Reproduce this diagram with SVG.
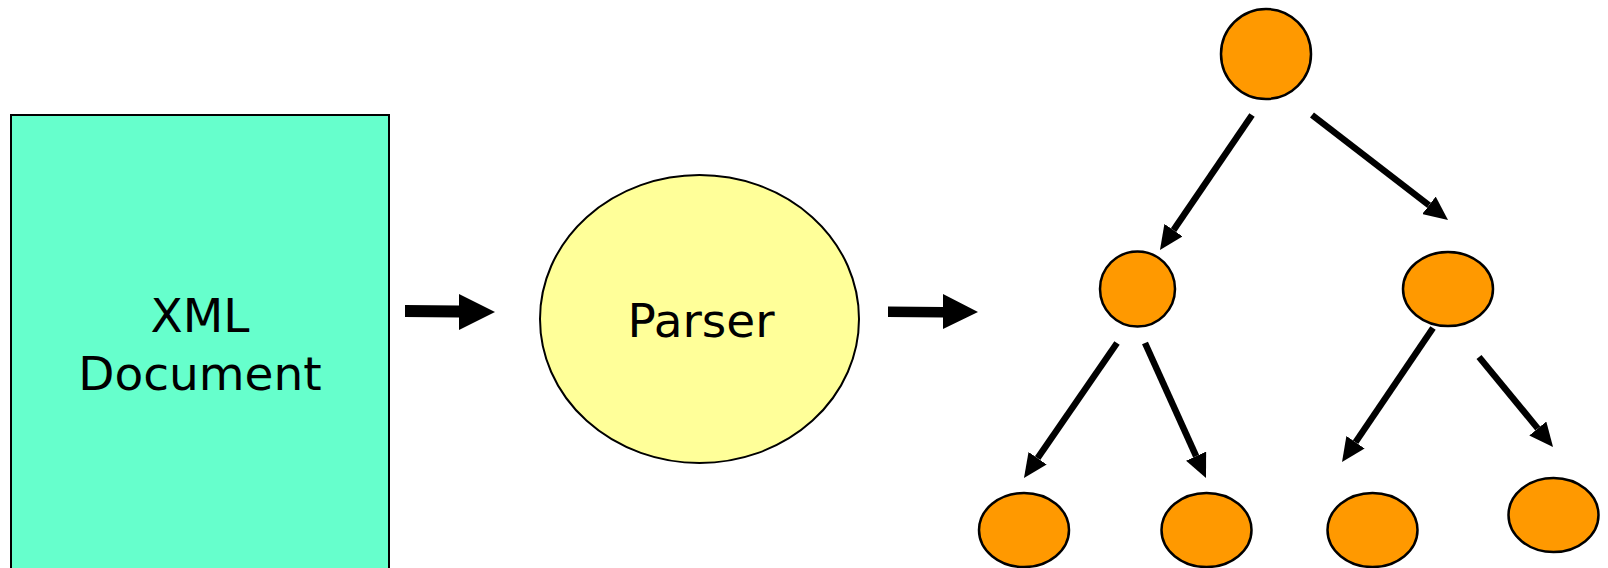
<svg xmlns="http://www.w3.org/2000/svg" width="1608" height="568" viewBox="0 0 1608 568">
<style>
  .lbl { font-family: "DejaVu Sans", Verdana, sans-serif; font-size: 47px; fill: #000; text-anchor: middle; }
  .tn { fill: #FF9900; stroke: #000; stroke-width: 2.5; }
  .edge { stroke: #000; stroke-width: 6.5; fill: none; marker-end: url(#ah); }
  .block { fill: #000; }
</style>
<defs>
  <marker id="ah" markerUnits="userSpaceOnUse" markerWidth="24" markerHeight="22" viewBox="0 0 24 22" refX="0" refY="11" orient="auto">
    <path d="M0,0 L24,11 L0,22 z" fill="#000"/>
  </marker>
</defs>
<rect width="1608" height="568" fill="#fff"/>
<g id="xml-document">
  <rect x="11" y="115" width="378" height="470" fill="#66FFCC" stroke="#000" stroke-width="2"/>
  <text class="lbl" x="200" y="332">XML</text>
  <text class="lbl" x="200" y="390">Document</text>
</g>
<g id="parser">
  <ellipse cx="699.5" cy="319" rx="159.5" ry="144" fill="#FFFF99" stroke="#000" stroke-width="2"/>
  <text class="lbl" x="701" y="337">Parser</text>
</g>
<g id="root"><circle class="tn" cx="1266" cy="54" r="45"/></g>
<g id="child-left"><ellipse class="tn" cx="1137.5" cy="289" rx="37.5" ry="37.5"/></g>
<g id="child-right"><ellipse class="tn" cx="1448" cy="289" rx="45" ry="37"/></g>
<g id="leaf-1"><ellipse class="tn" cx="1024" cy="530" rx="45" ry="37"/></g>
<g id="leaf-2"><ellipse class="tn" cx="1206.5" cy="530" rx="45" ry="37"/></g>
<g id="leaf-3"><ellipse class="tn" cx="1372.5" cy="530" rx="45" ry="37"/></g>
<g id="leaf-4"><ellipse class="tn" cx="1553.5" cy="515" rx="45" ry="37"/></g>
<g id="connectors">
  <polygon class="block" points="405,305 459,305.5 459,294 495,312 459,330 459,317.5 405,317"/>
  <polygon class="block" points="888,306.5 943,307 943,294 978,312 943,329 943,317.5 888,317"/>
  <line class="edge" x1="1252" y1="115" x2="1173.5" y2="230.1"/>
  <line class="edge" x1="1312" y1="115" x2="1429" y2="205.3"/>
  <line class="edge" x1="1117" y1="343" x2="1037.6" y2="458.2"/>
  <line class="edge" x1="1145" y1="343" x2="1196.1" y2="456.1"/>
  <line class="edge" x1="1433" y1="328" x2="1355.5" y2="442.2"/>
  <line class="edge" x1="1479" y1="357" x2="1537.8" y2="428.5"/>
</g>
</svg>
